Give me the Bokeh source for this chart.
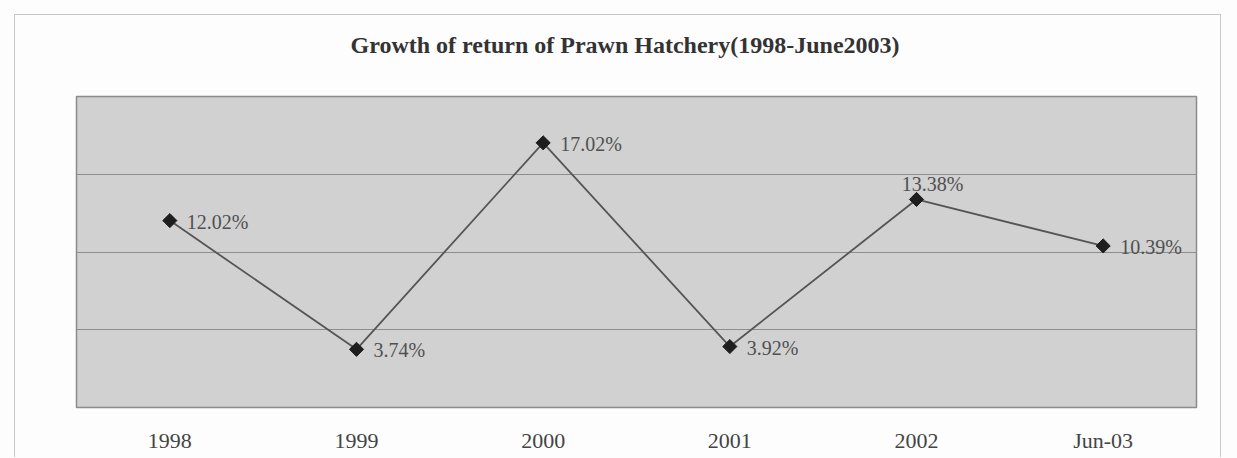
import math
from bokeh.plotting import figure
from bokeh.models import ColumnDataSource, FixedTicker, Range1d, FactorRange, Title
from bokeh.core.properties import value
from bokeh.layouts import column
from bokeh.embed import file_html
from bokeh.resources import INLINE

categories = ["1998", "1999", "2000", "2001", "2002", "Jun-03"]
returns = [12.02, 3.74, 17.02, 3.92, 13.38, 10.39]
labels = ["12.02%", "3.74%", "17.02%", "3.92%", "13.38%", "10.39%"]
above_idx = [4]
title_text = "Growth of return of Prawn Hatchery(1998-June2003)"

SERIF = "Liberation Serif"
W, H = 1207, 443

p = figure(width=W, height=H, x_range=FactorRange(factors=categories, range_padding=0),
           y_range=Range1d(0, 20), output_backend="svg", toolbar_location=None,
           min_border_left=61, min_border_right=26, min_border_top=81, min_border_bottom=51)
p.margin = (14, 0, 0, 14)
p.styles = {"border-top": "1px solid #c8c8c8", "border-left": "1px solid #c8c8c8",
            "border-right": "1px solid #c8c8c8"}

# spacer title (closest to frame) pushes the real title upward
p.add_layout(Title(text=" ", text_font_size="22px", standoff=12), "above")
p.add_layout(Title(text=title_text, align="left", offset=274, text_font=SERIF,
                   text_font_size="24px", text_font_style="bold", text_color="#333333",
                   standoff=0), "above")

p.background_fill_color = "#d1d1d1"
p.border_fill_color = "#fdfdfd"
p.outline_line_color = "#8c8c8c"
p.outline_line_width = 1.5

p.xgrid.grid_line_color = None
p.ygrid.ticker = FixedTicker(ticks=[5, 10, 15])
p.ygrid.grid_line_color = "#8e8e8e"
p.ygrid.grid_line_width = 1

p.yaxis.visible = False
p.xaxis.axis_line_color = None
p.xaxis.major_tick_line_color = None
p.xaxis.minor_tick_line_color = None
p.xaxis.major_label_text_font = SERIF
p.xaxis.major_label_text_font_size = "22px"
p.xaxis.major_label_text_color = "#444444"
p.xaxis.major_label_standoff = 14

src = ColumnDataSource(dict(x=categories, y=returns, lab=labels))
p.line("x", "y", source=src, line_color="#555555", line_width=1.8)
p.scatter("x", "y", source=src, marker="square", angle=math.pi / 4, size=10,
          fill_color="#1e1e1e", line_color="#1e1e1e")

right_idx = [i for i in range(len(categories)) if i not in above_idx]
src_r = ColumnDataSource(dict(x=[categories[i] for i in right_idx], y=[returns[i] for i in right_idx],
                              lab=[labels[i] for i in right_idx]))
src_a = ColumnDataSource(dict(x=[categories[i] for i in above_idx], y=[returns[i] for i in above_idx],
                              lab=[labels[i] for i in above_idx]))
p.text("x", "y", text="lab", source=src_r, x_offset=17, y_offset=1, text_baseline="middle",
       text_align="left", text_font=value(SERIF), text_font_size="20px", text_color="#505050")
p.text("x", "y", text="lab", source=src_a, x_offset=16, y_offset=-15, text_baseline="middle",
       text_align="center", text_font=value(SERIF), text_font_size="20px", text_color="#505050")

page = column(p, width=1237, height=458, styles={"background-color": "#fdfdfd"})
open("out.html", "w").write(file_html(page, INLINE))
